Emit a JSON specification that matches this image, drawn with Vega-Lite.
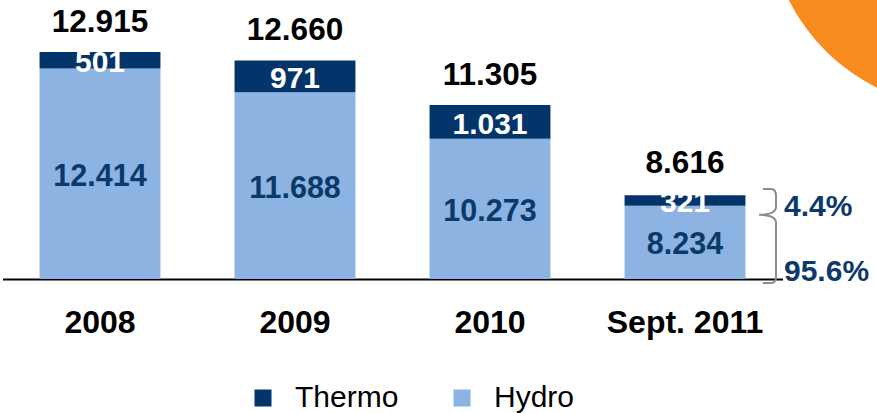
{
  "$schema": "https://vega.github.io/schema/vega-lite/v6.json",
  "width": 780,
  "height": 279,
  "autosize": {"type": "none"},
  "padding": {"left": 2.5, "right": 94.5, "top": 0, "bottom": 134},
  "config": {
    "font": "Liberation Sans",
    "view": {"stroke": null},
    "axis": {"grid": false}
  },
  "datasets": {
    "bars": [
      {"cat": "2008", "type": "Hydro", "value": 12414, "ord": 1, "label": "12.414", "share": ""},
      {"cat": "2008", "type": "Thermo", "value": 501, "ord": 2, "label": "501", "share": ""},
      {"cat": "2009", "type": "Hydro", "value": 11688, "ord": 1, "label": "11.688", "share": ""},
      {"cat": "2009", "type": "Thermo", "value": 971, "ord": 2, "label": "971", "share": ""},
      {"cat": "2010", "type": "Hydro", "value": 10273, "ord": 1, "label": "10.273", "share": ""},
      {"cat": "2010", "type": "Thermo", "value": 1031, "ord": 2, "label": "1.031", "share": ""},
      {"cat": "Sept. 2011", "type": "Hydro", "value": 8234, "ord": 1, "label": "8.234", "share": "95.6%"},
      {"cat": "Sept. 2011", "type": "Thermo", "value": 321, "ord": 2, "label": "321", "share": "4.4%"}
    ],
    "totals": [
      {"cat": "2008", "total": 12915, "label": "12.915"},
      {"cat": "2009", "total": 12660, "label": "12.660"},
      {"cat": "2010", "total": 11305, "label": "11.305"},
      {"cat": "Sept. 2011", "total": 8616, "label": "8.616"}
    ]
  },
  "data": {"name": "bars"},
  "resolve": {"scale": {"y": "independent"}},
  "encoding": {
    "x": {
      "field": "cat",
      "type": "nominal",
      "scale": {"domain": ["2008", "2009", "2010", "Sept. 2011"], "paddingInner": 0.38, "paddingOuter": 0.19},
      "axis": {
        "title": null,
        "labelAngle": 0,
        "labelFontSize": 32,
        "labelFontWeight": "bold",
        "labelColor": "black",
        "ticks": false,
        "labelPadding": 28,
        "domainColor": "black",
        "domainWidth": 2,
        "labelLimit": 0
      }
    }
  },
  "layer": [
    {
      "data": {"values": [{"cat": "Sept. 2011", "top": 14500}]},
      "mark": {
        "type": "point",
        "shape": "M0.4235,-0.449 A1,1 0 1,0 2.4235,-0.449 A1,1 0 1,0 0.4235,-0.449 Z",
        "filled": true,
        "color": "#F68B1F",
        "opacity": 1,
        "size": 153664,
        "strokeWidth": 0
      },
      "encoding": {
        "y": {"field": "top", "type": "quantitative", "scale": {"domain": [6000, 14500], "zero": false, "nice": false}, "axis": null}
      }
    },
    {
      "mark": {"type": "bar"},
      "encoding": {
        "y": {
          "field": "value",
          "type": "quantitative",
          "stack": "zero",
          "scale": {"domain": [6000, 14500], "clamp": true, "zero": false, "nice": false},
          "axis": null
        },
        "color": {
          "field": "type",
          "type": "nominal",
          "scale": {"domain": ["Thermo", "Hydro"], "range": ["#04356A", "#8DB3E2"]},
          "legend": {
            "orient": "none",
            "legendX": 245.5,
            "legendY": 383,
            "direction": "horizontal",
            "title": null,
            "padding": 0,
            "symbolType": "square",
            "symbolSize": 289,
            "symbolStrokeWidth": 0,
            "labelFontSize": 30,
            "labelColor": "black",
            "labelOffset": 17,
            "columnPadding": 48,
            "labelLimit": 0
          }
        },
        "order": {"field": "ord", "type": "quantitative"}
      }
    },
    {
      "mark": {"type": "text", "fontWeight": "bold", "fontSize": 30, "dy": 3, "baseline": "middle"},
      "encoding": {
        "y": {"field": "value", "type": "quantitative", "stack": "zero", "bandPosition": 0.5, "scale": {"domain": [6000, 14500], "clamp": true, "zero": false, "nice": false}, "axis": null},
        "detail": {"field": "type"},
        "order": {"field": "ord", "type": "quantitative"},
        "text": {"field": "label"},
        "color": {"condition": {"test": "datum.type === 'Thermo'", "value": "#FFFFFF"}, "value": "rgba(0,0,0,0)"}
      }
    },
    {
      "transform": [{"filter": "datum.type === 'Hydro'"}],
      "mark": {"type": "text", "fontWeight": "bold", "fontSize": 30.5, "dy": 3, "baseline": "middle", "color": "#0B3A6A"},
      "encoding": {
        "y": {"field": "value", "type": "quantitative", "stack": null, "scale": {"domain": [6000, 23000], "zero": false, "nice": false}, "axis": null},
        "text": {"field": "label"}
      }
    },
    {
      "transform": [
        {"stack": "value", "groupby": ["cat"], "sort": [{"field": "ord", "order": "ascending"}], "as": ["v0", "v1"]},
        {"filter": "datum.cat === 'Sept. 2011' && datum.type === 'Thermo'"}
      ],
      "mark": {"type": "text", "fontWeight": "bold", "fontSize": 30, "dy": 1.5, "dx": 99, "align": "left", "baseline": "middle", "color": "#0B3A6A"},
      "encoding": {
        "y": {"field": "v0", "type": "quantitative", "stack": null, "scale": {"domain": [6000, 14500], "clamp": true, "zero": false, "nice": false}, "axis": null},
        "text": {"field": "share"}
      }
    },
    {
      "transform": [
        {"stack": "value", "groupby": ["cat"], "sort": [{"field": "ord", "order": "ascending"}], "as": ["v0", "v1"]},
        {"filter": "datum.cat === 'Sept. 2011' && datum.type === 'Hydro'"}
      ],
      "mark": {"type": "text", "fontWeight": "bold", "fontSize": 30, "dy": -7, "dx": 99, "align": "left", "baseline": "middle", "color": "#0B3A6A"},
      "encoding": {
        "y": {"field": "v0", "type": "quantitative", "stack": null, "scale": {"domain": [6000, 14500], "clamp": true, "zero": false, "nice": false}, "axis": null},
        "text": {"field": "share"}
      }
    },
    {
      "data": {"name": "totals"},
      "mark": {"type": "text", "fontWeight": "bold", "fontSize": 31.5, "dy": -20, "baseline": "alphabetic", "color": "black"},
      "encoding": {
        "y": {"field": "total", "type": "quantitative", "scale": {"domain": [6000, 14500], "zero": false, "nice": false}, "axis": null},
        "text": {"field": "label"}
      }
    },
    {
      "transform": [{"filter": "datum.cat === 'Sept. 2011' && datum.type === 'Hydro'"}],
      "mark": {
        "type": "point",
        "shape": "M1.656,-0.355 L1.836,-0.355 Q1.936,-0.355 1.936,-0.205 L1.936,0.025 Q1.936,0.195 1.576,0.195 Q1.936,0.195 1.936,0.365 L1.936,1.495 Q1.936,1.645 1.836,1.645 L1.656,1.645",
        "filled": false,
        "color": "#8C8C8C",
        "opacity": 1,
        "strokeWidth": 2,
        "size": 8836
      },
      "encoding": {
        "y": {"field": "value", "type": "quantitative", "stack": null, "scale": {"domain": [6000, 14500], "zero": false, "nice": false}, "axis": null}
      }
    }
  ]
}
